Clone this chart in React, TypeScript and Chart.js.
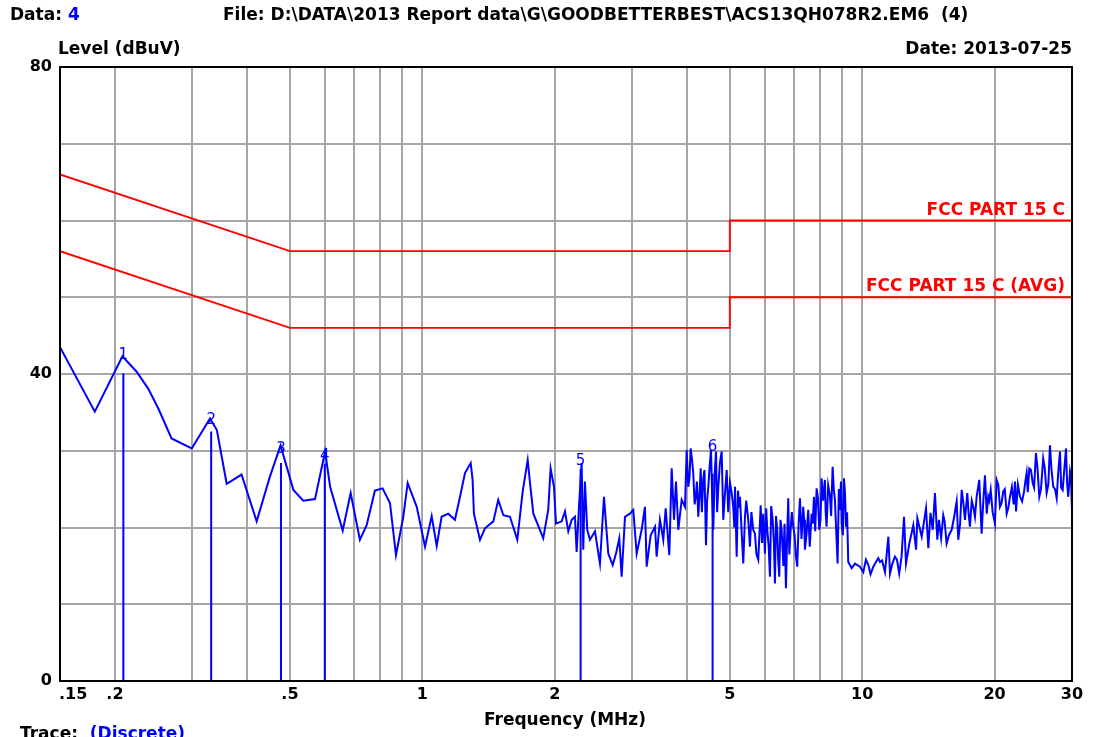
import React, { useEffect, useRef } from 'react';
import { Chart, registerables } from 'chart.js';

Chart.register(...registerables);

// ---- data ----
const TRACE_POINTS: [number, number][] = [
  [0.15, 43.5], [0.18, 35.1], [0.208, 42.3], [0.224, 40.3], [0.238, 38.1], [0.251, 35.5],
  [0.269, 31.6], [0.299, 30.3], [0.329, 34.2], [0.341, 32.7], [0.359, 25.7], [0.388, 26.9],
  [0.42, 20.8], [0.45, 26.6], [0.476, 30.7], [0.509, 24.9], [0.536, 23.5], [0.57, 23.7],
  [0.601, 29.9], [0.617, 25.3], [0.659, 19.6], [0.687, 24.5], [0.721, 18.4], [0.747, 20.3],
  [0.78, 24.8], [0.812, 25.1], [0.844, 23.2], [0.871, 16.4], [0.905, 21.4], [0.926, 25.8],
  [0.971, 22.7], [1.014, 17.5], [1.05, 21.5], [1.078, 17.6], [1.106, 21.4], [1.145, 21.8],
  [1.186, 21.0], [1.218, 24.0], [1.25, 27.1], [1.288, 28.4], [1.301, 26.2], [1.31, 21.8],
  [1.352, 18.4], [1.388, 19.9], [1.45, 20.8], [1.488, 23.6], [1.528, 21.6], [1.582, 21.4],
  [1.644, 18.4], [1.691, 24.7], [1.736, 28.8], [1.757, 25.8], [1.788, 21.8], [1.883, 18.6],
  [1.933, 22.3], [1.957, 27.7], [1.992, 25.3], [2.013, 20.5], [2.074, 20.8], [2.11, 22.1],
  [2.147, 19.5], [2.186, 21.0], [2.223, 21.4], [2.243, 16.8], [2.273, 23.2], [2.302, 28.4],
  [2.322, 17.1], [2.342, 26.0], [2.371, 19.7], [2.405, 18.4], [2.469, 19.5], [2.534, 15.3],
  [2.588, 24.0], [2.647, 16.6], [2.709, 15.1], [2.756, 16.6], [2.804, 18.6], [2.839, 13.6],
  [2.889, 21.4], [2.965, 21.8], [3.017, 22.3], [3.071, 16.6], [3.152, 19.7], [3.207, 22.7],
  [3.236, 14.9], [3.305, 19.0], [3.38, 20.1], [3.41, 16.2], [3.469, 21.0], [3.53, 18.4],
  [3.575, 22.5], [3.643, 16.4], [3.689, 27.7], [3.734, 21.0], [3.773, 26.0], [3.819, 19.7],
  [3.887, 23.6], [3.955, 22.7], [3.99, 30.1], [4.023, 25.3], [4.05, 26.5], [4.074, 30.3],
  [4.1, 29.0], [4.13, 27.1], [4.16, 23.0], [4.189, 24.2], [4.21, 26.0], [4.24, 21.4],
  [4.27, 24.5], [4.294, 27.7], [4.32, 22.0], [4.353, 26.4], [4.38, 27.5], [4.415, 17.7],
  [4.44, 23.5], [4.469, 25.3], [4.5, 28.0], [4.532, 30.1], [4.56, 24.0], [4.587, 19.7],
  [4.62, 27.0], [4.652, 29.9], [4.68, 22.0], [4.709, 25.3], [4.75, 28.5], [4.793, 29.9],
  [4.81, 26.0], [4.833, 21.0], [4.87, 24.0], [4.92, 27.5], [4.96, 22.0], [5.006, 25.8],
  [5.05, 24.5], [5.093, 22.7], [5.12, 20.0], [5.139, 25.3], [5.184, 16.2], [5.22, 24.8],
  [5.255, 22.7], [5.274, 24.0], [5.32, 19.5], [5.366, 15.3], [5.414, 21.4], [5.45, 23.5],
  [5.508, 21.0], [5.557, 17.5], [5.6, 22.0], [5.654, 19.7], [5.705, 19.2], [5.75, 16.5],
  [5.804, 15.8], [5.85, 20.0], [5.878, 22.9], [5.92, 18.0], [5.958, 21.8], [6.011, 16.6],
  [6.05, 22.5], [6.085, 19.7], [6.13, 17.5], [6.171, 13.6], [6.21, 22.8], [6.259, 21.0],
  [6.3, 18.0], [6.334, 12.7], [6.37, 21.5], [6.411, 19.7], [6.44, 16.0], [6.479, 13.6],
  [6.52, 21.0], [6.56, 19.7], [6.62, 15.0], [6.66, 20.5], [6.71, 12.1], [6.75, 18.5],
  [6.791, 23.8], [6.83, 16.5], [6.877, 19.7], [6.92, 22.0], [6.971, 20.1], [7.02, 19.0],
  [7.07, 16.2], [7.119, 14.9], [7.17, 20.5], [7.22, 23.8], [7.28, 18.5], [7.345, 22.7],
  [7.38, 21.0], [7.411, 17.1], [7.47, 19.0], [7.54, 22.3], [7.6, 17.5], [7.675, 21.8],
  [7.72, 20.5], [7.768, 24.0], [7.82, 19.5], [7.879, 25.1], [7.93, 24.0], [7.987, 19.7],
  [8.04, 21.0], [8.087, 26.4], [8.15, 23.5], [8.228, 26.2], [8.26, 22.0], [8.301, 20.1],
  [8.37, 25.5], [8.446, 24.2], [8.5, 21.5], [8.567, 27.9], [8.62, 25.0], [8.671, 23.6],
  [8.73, 19.5], [8.794, 15.3], [8.85, 25.0], [8.902, 22.3], [8.95, 26.0], [8.981, 20.5],
  [9.04, 19.0], [9.09, 26.4], [9.14, 24.5], [9.187, 20.1], [9.24, 22.0], [9.298, 15.5],
  [9.465, 14.7], [9.63, 15.3], [9.886, 14.9], [10.06, 14.2],
  [10.2, 15.8], [10.33, 15.1], [10.45, 13.9], [10.6, 14.9], [10.75, 15.5], [10.88, 16.0],
  [10.98, 15.5], [11.1, 15.7], [11.27, 14.2], [11.47, 18.8], [11.57, 14.0], [11.7, 15.2],
  [11.87, 16.2], [12.0, 15.8], [12.14, 14.0], [12.29, 16.2], [12.45, 21.4], [12.58, 15.3],
  [12.8, 17.9], [13.07, 20.3], [13.26, 17.1], [13.35, 21.2], [13.66, 18.8], [13.97, 22.5],
  [14.14, 17.3], [14.3, 21.9], [14.47, 19.7], [14.64, 24.5], [14.82, 18.4], [14.95, 21.0],
  [15.12, 18.6], [15.29, 21.6], [15.4, 20.8], [15.56, 17.9], [15.75, 19.0], [15.98, 19.7],
  [16.2, 21.5], [16.4, 23.4], [16.54, 18.4], [16.7, 20.5], [16.84, 24.9], [17.0, 23.0],
  [17.13, 21.0], [17.34, 24.5], [17.45, 22.0], [17.58, 20.1], [17.75, 23.5], [17.89, 22.7],
  [18.05, 21.4], [18.21, 24.0], [18.46, 26.2], [18.69, 19.2], [18.85, 23.3], [19.02, 26.8],
  [19.2, 21.8], [19.35, 24.0], [19.45, 23.5], [19.6, 24.9], [19.8, 22.0], [20.04, 20.5],
  [20.22, 26.2], [20.4, 25.5], [20.57, 22.7], [20.75, 23.2], [20.93, 24.7], [21.1, 25.0],
  [21.31, 21.8], [21.5, 22.6], [21.68, 24.0], [21.9, 25.3], [22.1, 23.0], [22.26, 26.0],
  [22.38, 22.1], [22.6, 25.6], [22.85, 24.0], [23.1, 23.4], [23.34, 24.7], [23.5, 26.0],
  [23.66, 27.1], [23.8, 24.6], [23.99, 27.7], [24.2, 27.5], [24.42, 25.8], [24.6, 25.2],
  [24.84, 29.7], [25.05, 27.6], [25.28, 24.0], [25.5, 25.0], [25.8, 29.0], [26.0, 27.8],
  [26.27, 24.5], [26.5, 25.6], [26.73, 30.7], [26.95, 27.5], [27.2, 25.3], [27.45, 25.0],
  [27.69, 23.8], [27.9, 27.0], [28.17, 29.9], [28.35, 25.2], [28.57, 24.9], [28.8, 27.4],
  [29.07, 30.3], [29.25, 25.6], [29.42, 24.0], [29.69, 27.3], [29.85, 26.5], [30.0, 22.1],
];

const LIMIT_QP_FREQ = [0.15, 0.5, 5, 5, 30];
const LIMIT_QP_LEVEL = [66, 56, 56, 60, 60];
const LIMIT_AVG_FREQ = [0.15, 0.5, 5, 5, 30];
const LIMIT_AVG_LEVEL = [56, 46, 46, 50, 50];
const LIMIT_QP_NAME = 'FCC PART 15 C';
const LIMIT_AVG_NAME = 'FCC PART 15 C (AVG)';

const MARKER_NO = ['1', '2', '3', '4', '5', '6'];
const MARKER_FREQ = [0.209, 0.331, 0.477, 0.6, 2.29, 4.57];
const MARKER_DISCRETE = [40.1, 32.5, 28.4, 28.3, 27.6, 27.0];
const MARKER_PEAK = [42.4, 34.0, 30.2, 29.3, 28.6, 30.5];

const X_GRID = [0.15, 0.2, 0.3, 0.4, 0.5, 0.6, 0.7, 0.8, 0.9, 1, 2, 3, 4, 5, 6, 7, 8, 9, 10, 20, 30];
const X_LABEL_VALUES = [0.15, 0.2, 0.5, 1, 2, 5, 10, 20, 30];
const X_LABEL_TEXT = ['.15', '.2', '.5', '1', '2', '5', '10', '20', '30'];
const Y_GRID = [0, 10, 20, 30, 40, 50, 60, 70, 80];
const Y_LABEL_VALUES = [0, 40, 80];

const FONT = '"DejaVu Sans", "Liberation Sans", Arial, sans-serif';

const overlayPlugin = {
  id: 'overlay',
  afterDatasetsDraw(chart: any) {
    const { ctx, chartArea, scales } = chart;
    const xs = scales.x;
    const ys = scales.y;
    ctx.save();
    // frame
    ctx.strokeStyle = '#000';
    ctx.lineWidth = 2;
    ctx.strokeRect(chartArea.left, chartArea.top, chartArea.right - chartArea.left, chartArea.bottom - chartArea.top);

    // limit labels
    ctx.fillStyle = '#ff0000';
    ctx.font = `bold 17px ${FONT}`;
    ctx.textAlign = 'right';
    ctx.textBaseline = 'alphabetic';
    ctx.fillText(LIMIT_QP_NAME, chartArea.right - 7, ys.getPixelForValue(LIMIT_QP_LEVEL[LIMIT_QP_LEVEL.length - 1]) - 6);
    ctx.fillText(LIMIT_AVG_NAME, chartArea.right - 7, ys.getPixelForValue(LIMIT_AVG_LEVEL[LIMIT_AVG_LEVEL.length - 1]) - 6);

    // marker numbers
    ctx.fillStyle = '#0000ff';
    ctx.font = `15px ${FONT}`;
    ctx.textAlign = 'center';
    ctx.textBaseline = 'middle';
    MARKER_NO.forEach((n, i) => {
      ctx.fillText(n, xs.getPixelForValue(MARKER_FREQ[i]), ys.getPixelForValue(MARKER_PEAK[i]));
    });

    // tick labels
    ctx.fillStyle = '#000';
    ctx.font = `bold 16px ${FONT}`;
    ctx.textAlign = 'right';
    ctx.textBaseline = 'middle';
    Y_LABEL_VALUES.forEach((v) => {
      ctx.fillText(String(v), chartArea.left - 8, ys.getPixelForValue(v));
    });
    ctx.textBaseline = 'top';
    X_LABEL_VALUES.forEach((v, i) => {
      ctx.textAlign = i === 0 ? 'left' : 'center';
      const px = xs.getPixelForValue(v);
      ctx.fillText(X_LABEL_TEXT[i], i === 0 ? px - 1 : px, chartArea.bottom + 6);
    });
    ctx.restore();
  },
};

export default function App() {
  const canvasRef = useRef<HTMLCanvasElement>(null);

  useEffect(() => {
    document.body.style.margin = '0';
    const canvas = canvasRef.current;
    if (!canvas) return;

    const discrete: any[] = [];
    MARKER_FREQ.forEach((f, i) => {
      discrete.push({ x: f, y: 0 });
      discrete.push({ x: f, y: MARKER_DISCRETE[i] });
      discrete.push({ x: f, y: null });
    });

    const chart = new Chart(canvas, {
      type: 'line',
      data: {
        datasets: [
          {
            label: LIMIT_QP_NAME,
            data: LIMIT_QP_FREQ.map((f, i) => ({ x: f, y: LIMIT_QP_LEVEL[i] })),
            borderColor: '#ff0000',
            borderWidth: 1.8,
            pointRadius: 0,
            tension: 0,
          },
          {
            label: LIMIT_AVG_NAME,
            data: LIMIT_AVG_FREQ.map((f, i) => ({ x: f, y: LIMIT_AVG_LEVEL[i] })),
            borderColor: '#ff0000',
            borderWidth: 1.8,
            pointRadius: 0,
            tension: 0,
          },
          {
            label: 'Discrete',
            data: discrete,
            borderColor: '#0000ff',
            borderWidth: 2,
            pointRadius: 0,
            spanGaps: false,
          },
          {
            label: 'Trace',
            data: TRACE_POINTS.map(([f, v]) => ({ x: f, y: v })).sort((a, b) => a.x - b.x),
            borderColor: '#0000ff',
            borderWidth: 2,
            pointRadius: 0,
            tension: 0,
          },
        ],
      },
      options: {
        responsive: false,
        animation: false,
        devicePixelRatio: 1,
        parsing: false as any,
        normalized: true,
        layout: { padding: { left: 60, top: 67, right: 21, bottom: 56 } },
        plugins: { legend: { display: false }, tooltip: { enabled: false }, title: { display: false } },
        scales: {
          x: {
            type: 'logarithmic',
            min: 0.15,
            max: 30,
            afterBuildTicks: (scale: any) => {
              scale.ticks = X_GRID.map((v) => ({ value: v }));
            },
            ticks: { display: false },
            grid: { color: '#a6a6a6', lineWidth: 2, drawTicks: false },
            border: { display: false },
          },
          y: {
            type: 'linear',
            min: 0,
            max: 80,
            afterBuildTicks: (scale: any) => {
              scale.ticks = Y_GRID.map((v) => ({ value: v }));
            },
            ticks: { display: false },
            grid: { color: '#a6a6a6', lineWidth: 2, drawTicks: false },
            border: { display: false },
          },
        },
      },
      plugins: [overlayPlugin],
    });
    return () => chart.destroy();
  }, []);

  const textBase: React.CSSProperties = {
    position: 'absolute',
    fontFamily: FONT,
    fontWeight: 'bold',
    fontSize: 17,
    whiteSpace: 'pre',
    lineHeight: '19px',
    color: '#000',
  };

  return (
    <div style={{ position: 'absolute', left: 0, top: 0, width: 1093, height: 737, overflow: 'hidden', background: '#fff' }}>
      <canvas ref={canvasRef} width={1093} height={737} style={{ position: 'absolute', left: 0, top: 0 }} />
      <div style={{ ...textBase, left: 10, top: 5 }}>
        Data: <span style={{ color: '#0000ff' }}>4</span>
      </div>
      <div style={{ ...textBase, left: 223, top: 5 }}>
        {'File: D:\\DATA\\2013 Report data\\G\\GOODBETTERBEST\\ACS13QH078R2.EM6  (4)'}
      </div>
      <div style={{ ...textBase, left: 58, top: 39 }}>Level (dBuV)</div>
      <div style={{ ...textBase, right: 21, top: 39 }}>Date: 2013-07-25</div>
      <div style={{ ...textBase, left: 565, top: 710, transform: 'translateX(-50%)' }}>Frequency (MHz)</div>
      <div style={{ ...textBase, left: 20, top: 724 }}>
        Trace:  <span style={{ color: '#0000ff' }}>(Discrete)</span>
      </div>
    </div>
  );
}
